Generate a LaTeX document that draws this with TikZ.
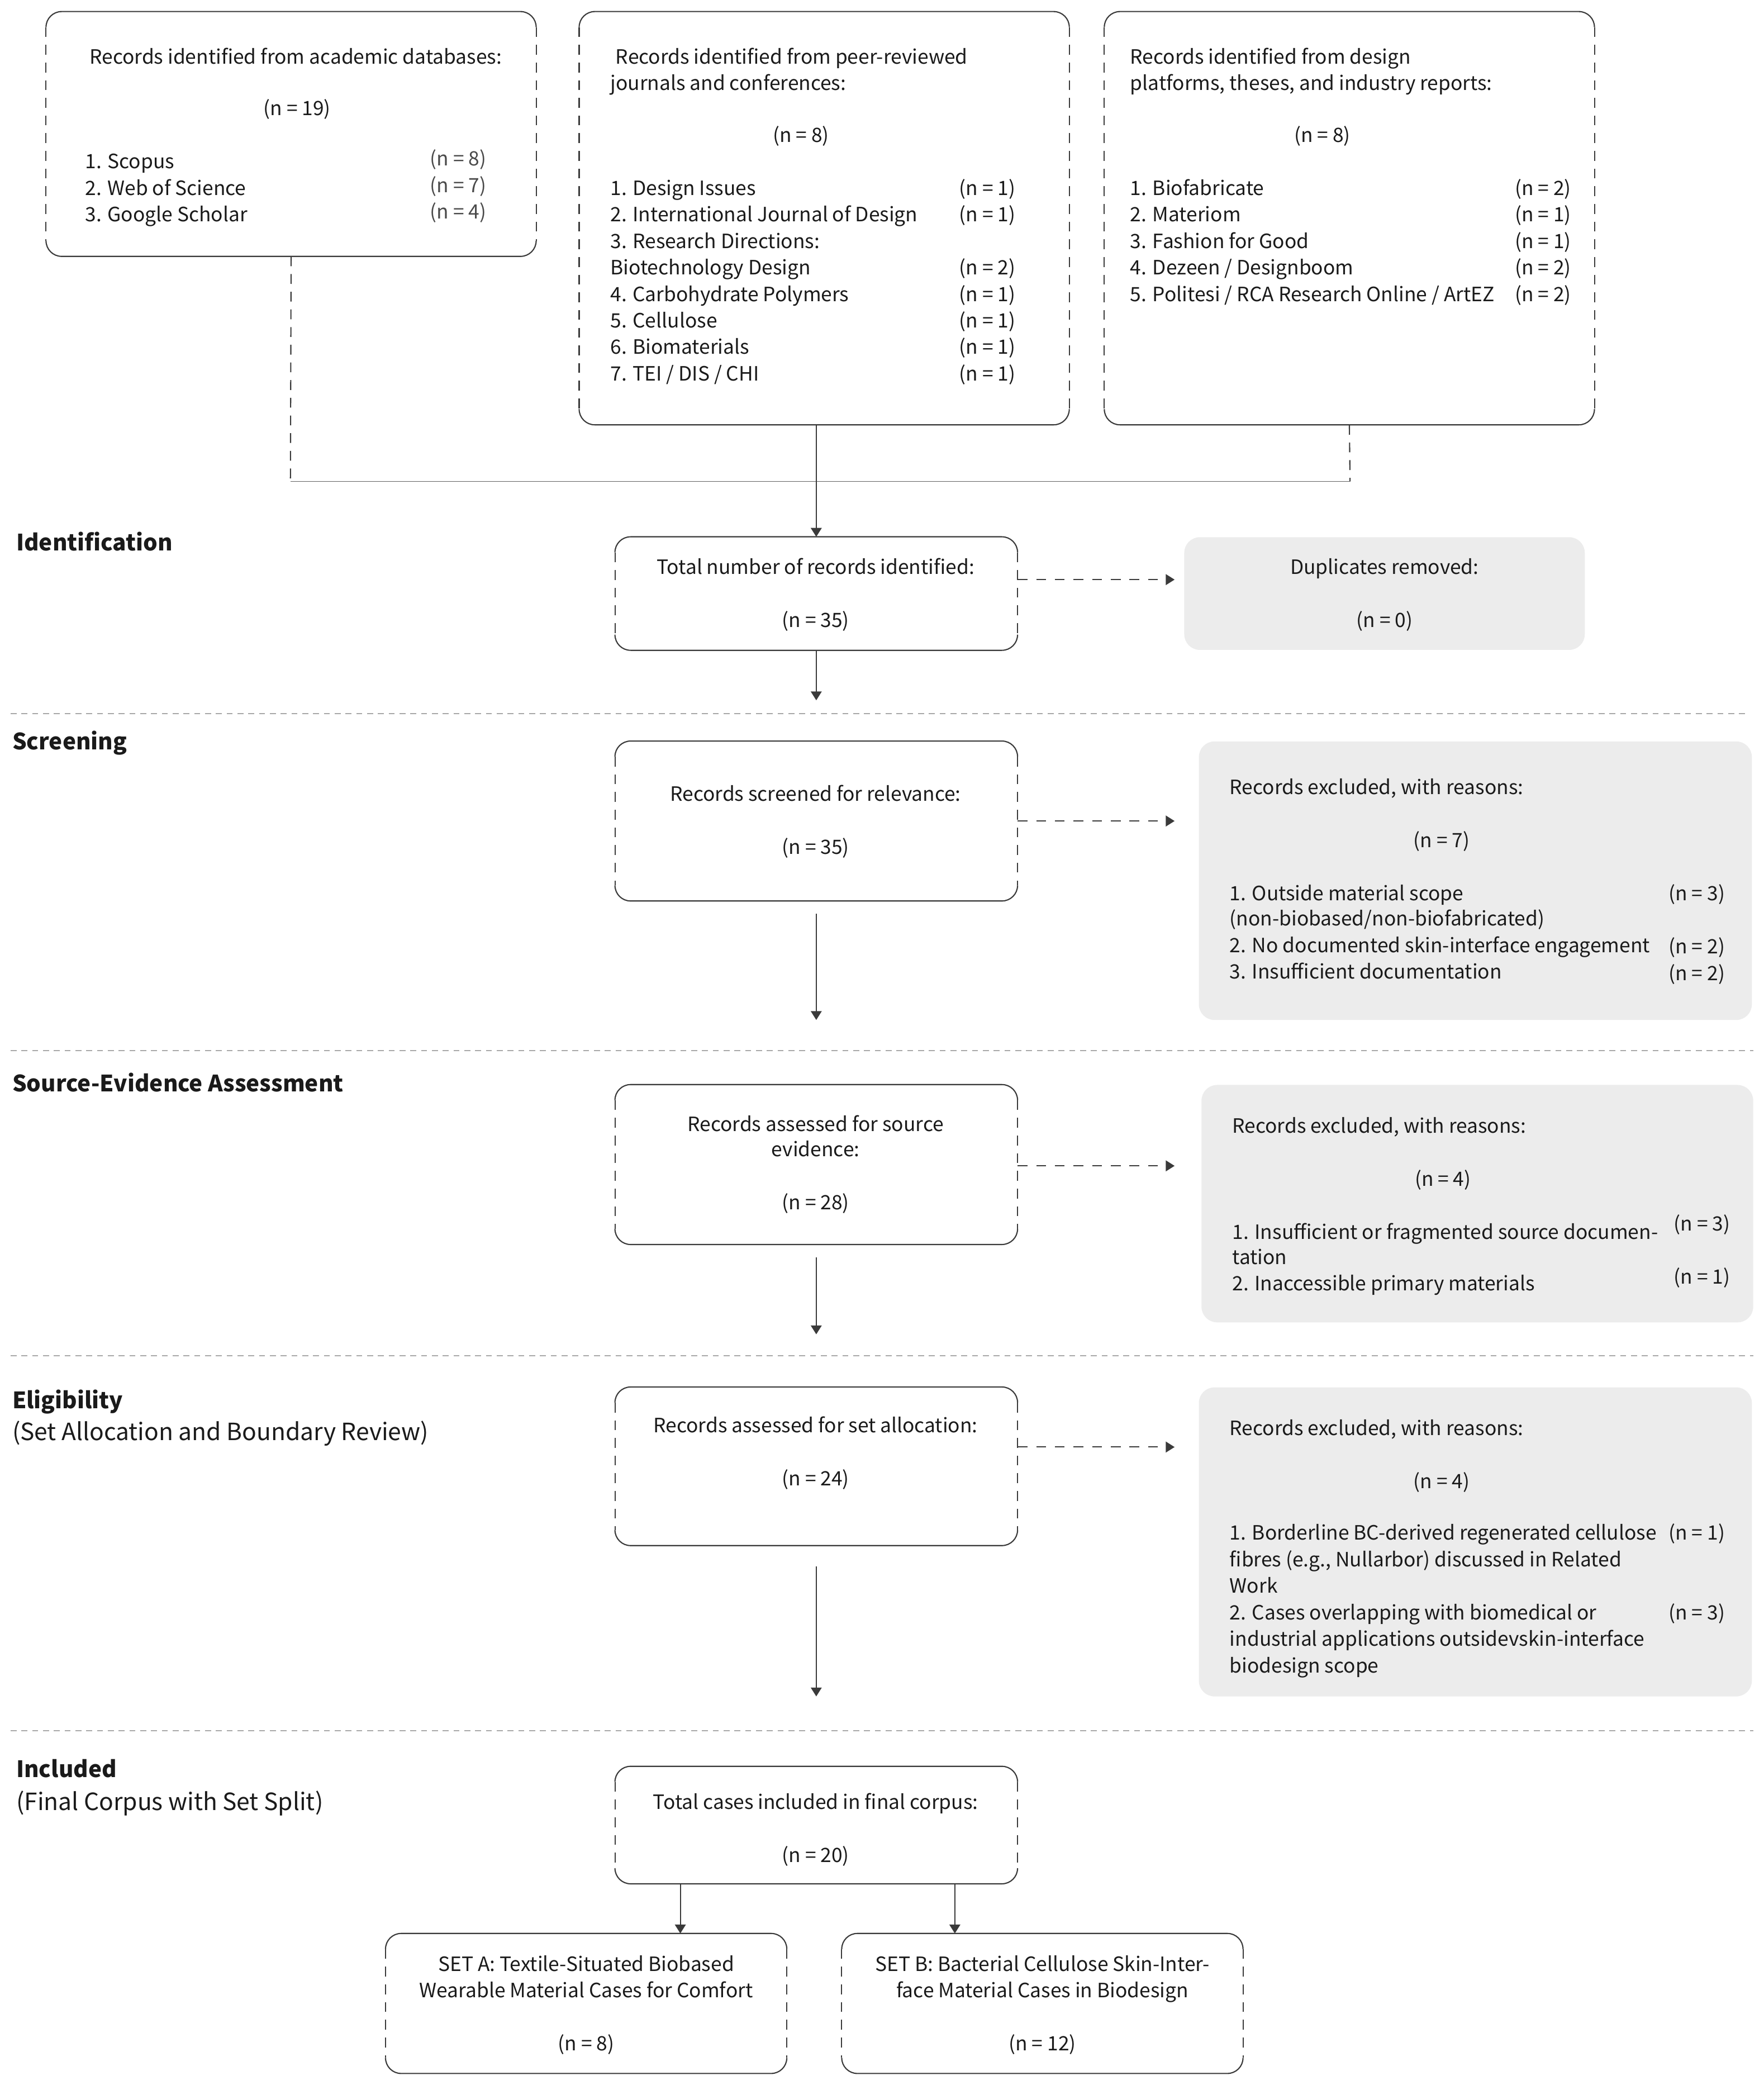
\documentclass[tikz,border=0pt]{standalone}
\usepackage{fontspec}
\setmainfont{Noto Sans CJK SC}
\usetikzlibrary{arrows.meta}
\def\uu{0.2373mm}
\def\rr{2.8mm}
\definecolor{ln}{HTML}{3A3A3A}
\definecolor{sepc}{HTML}{A8A8A8}
\definecolor{gbox}{HTML}{ECECEC}
\definecolor{tx}{HTML}{1A1A1A}
\definecolor{cntc}{HTML}{4A4A4A}
\newcommand\bodyf{\fontsize{10.05}{13.5}\selectfont}
\newcommand\headf{\fontsize{12.1}{15}\selectfont}
\newcommand\headbf{\fontsize{11.5}{15}\selectfont\bfseries}
\newcommand\framesides[1]{%
  \draw[boxline] ([yshift=-\rr]#1.north west) arc[start angle=180,end angle=90,radius=\rr] -- ([xshift=-\rr]#1.north east) arc[start angle=90,end angle=0,radius=\rr];
  \draw[boxline] ([yshift=\rr]#1.south west) arc[start angle=180,end angle=270,radius=\rr] -- ([xshift=-\rr]#1.south east) arc[start angle=270,end angle=360,radius=\rr];
  \draw[boxline,sidedash] ([yshift=-\rr]#1.north west) -- ([yshift=\rr]#1.south west);
  \draw[boxline,sidedash] ([yshift=-\rr]#1.north east) -- ([yshift=\rr]#1.south east);
}
\tikzset{
  bx/.style 2 args={inner sep=0pt, minimum width=#1*\uu, minimum height=#2*\uu},
  gb/.style 2 args={bx={#1}{#2}, fill=gbox, rounded corners=\rr},
  boxline/.style={draw=ln, line width=0.6pt},
  sidedash/.style={dash pattern=on 5pt off 4pt},
  txl/.style={anchor=base west, inner sep=0pt, font=\bodyf, text=tx, yshift=-1.45mm},
  txc/.style={anchor=base, inner sep=0pt, font=\bodyf, text=tx, yshift=-1.45mm},
  cnt/.style={txl, text=cntc},
  hd/.style={anchor=base west, inner sep=0pt, font=\headbf, text=tx, yshift=-1.9mm},
  hdr/.style={anchor=base west, inner sep=0pt, font=\headf, text=tx, yshift=-1.9mm},
  arr/.style={draw=ln, line width=0.6pt, -{Triangle[length=4.5pt,width=5.5pt]}},
  darr/.style={arr, dash pattern=on 5pt off 4.5pt},
  dline/.style={draw=ln, line width=0.6pt, dash pattern=on 5pt off 4pt},
  sline/.style={draw=ln!80, line width=0.5pt},
  sepline/.style={draw=sepc, line width=0.6pt, dash pattern=on 3pt off 2.5pt},
}
\begin{document}
\begin{tikzpicture}[x=0.2373mm, y=-0.2373mm]
\useasboundingbox (0,0) rectangle (1330,1572);
\fill[white] (0,0) rectangle (1330,1572);

% separators
\draw[sepline] (8,538) -- (1318,538);
\draw[sepline] (8,792) -- (1322,792);
\draw[sepline] (8,1022) -- (1322,1022);
\draw[sepline] (8,1305) -- (1322,1305);

% section labels
\node[hd] (hid) at (12,407) {Identification};
\node[hd] (hsc) at (9,557) {Screening};
\node[hd] (hse) at (9,815) {Source-Evidence Assessment};
\node[hd] (hel) at (9,1054) {Eligibility};
\node[hdr] (hel2) at (9,1078) {(Set Allocation and Boundary Review)};
\node[hd] (hin) at (12,1332) {Included};
\node[hdr] (hin2) at (12,1357) {(Final Corpus with Set Split)};

% boxes
\node[bx={369}{184}] (b1) at (219.5,101) {};
\node[bx={369}{311}] (b2) at (621.5,164.5) {};
\node[bx={369}{311}] (b3) at (1017.5,164.5) {};
\node[bx={303}{85}] (tot) at (615.5,447.5) {};
\node[gb={302}{85}] (dup) at (1044,447.5) {};
\node[bx={303}{120}] (scr) at (615.5,619) {};
\node[gb={417}{210}] (ex1) at (1112.5,664) {};
\node[bx={303}{120}] (se) at (615.5,878) {};
\node[gb={416}{179}] (ex2) at (1114,907.5) {};
\node[bx={303}{119}] (el) at (615.5,1105.5) {};
\node[gb={417}{233}] (ex3) at (1112.5,1162.5) {};
\node[bx={303}{88}] (fin) at (615.5,1376) {};
\node[bx={302}{105}] (sa) at (442,1510.5) {};
\node[bx={302}{105}] (sb) at (786,1510.5) {};
\foreach \b in {b1,b2,b3,tot,scr,se,el,fin,sa,sb} {\framesides{\b}}

% box 1 text
\node[txc] (b1t) at (223,42) {Records identified from academic databases:};
\node[txc] (b1n) at (224,81) {(n = 19)};
\node[txl] (b1i1) at (64,121) {1. Scopus};
\node[txl] (b1i2) at (64,141) {2. Web of Science};
\node[txl] (b1i3) at (64,161) {3. Google Scholar};
\node[cnt] (b1c1) at (324,119) {(n = 8)};
\node[cnt] (b1c2) at (324,139) {(n = 7)};
\node[cnt] (b1c3) at (324,159) {(n = 4)};

% box 2 text
\node[txl] (b2t1) at (464,42) {Records identified from peer-reviewed};
\node[txl] (b2t2) at (460,62) {journals and conferences:};
\node[txc] (b2n) at (604,101) {(n = 8)};
\node[txl] (b2i1) at (460,141) {1. Design Issues};
\node[txl] (b2i2) at (460,161) {2. International Journal of Design};
\node[txl] (b2i3) at (460,181) {3. Research Directions:};
\node[txl] (b2i4) at (460,201) {Biotechnology Design};
\node[txl] (b2i5) at (460,221) {4. Carbohydrate Polymers};
\node[txl] (b2i6) at (460,241) {5. Cellulose};
\node[txl] (b2i7) at (460,261) {6. Biomaterials};
\node[txl] (b2i8) at (460,281) {7. TEI / DIS / CHI};
\node[txl] (b2c1) at (723,141) {(n = 1)};
\node[txl] (b2c2) at (723,161) {(n = 1)};
\node[txl] (b2c4) at (723,201) {(n = 2)};
\node[txl] (b2c5) at (723,221) {(n = 1)};
\node[txl] (b2c6) at (723,241) {(n = 1)};
\node[txl] (b2c7) at (723,261) {(n = 1)};
\node[txl] (b2c8) at (723,281) {(n = 1)};

% box 3 text
\node[txl] (b3t1) at (852,42) {Records identified from design};
\node[txl] (b3t2) at (852,62) {platforms, theses, and industry reports:};
\node[txc] (b3n) at (997,101) {(n = 8)};
\node[txl] (b3i1) at (852,141) {1. Biofabricate};
\node[txl] (b3i2) at (852,161) {2. Materiom};
\node[txl] (b3i3) at (852,181) {3. Fashion for Good};
\node[txl] (b3i4) at (852,201) {4. Dezeen / Designboom};
\node[txl] (b3i5) at (852,221) {5. Politesi / RCA Research Online / ArtEZ};
\node[txl] (b3c1) at (1142,141) {(n = 2)};
\node[txl] (b3c2) at (1142,161) {(n = 1)};
\node[txl] (b3c3) at (1142,181) {(n = 1)};
\node[txl] (b3c4) at (1142,201) {(n = 2)};
\node[txl] (b3c5) at (1142,221) {(n = 2)};

% total / duplicates
\node[txc] (tott) at (615,427) {Total number of records identified:};
\node[txc] (totn) at (615,467) {(n = 35)};
\node[txc] (dupt) at (1044,427) {Duplicates removed:};
\node[txc] (dupn) at (1044,467) {(n = 0)};

% screening
\node[txc] (scrt) at (615,598) {Records screened for relevance:};
\node[txc] (scrn) at (615,638) {(n = 35)};
\node[txl] (ex1t) at (927,593) {Records excluded, with reasons:};
\node[txc] (ex1n) at (1087,633) {(n = 7)};
\node[txl] (ex1i1) at (927,673) {1. Outside material scope};
\node[txl] (ex1i2) at (927,692) {(non-biobased/non-biofabricated)};
\node[txl] (ex1i3) at (927,712) {2. No documented skin-interface engagement};
\node[txl] (ex1i4) at (927,732) {3. Insufficient documentation};
\node[txl] (ex1c1) at (1258,673) {(n = 3)};
\node[txl] (ex1c2) at (1258,713) {(n = 2)};
\node[txl] (ex1c3) at (1258,733) {(n = 2)};

% source evidence
\node[txc] (set1) at (615,847) {Records assessed for source};
\node[txc] (set2) at (615,866) {evidence:};
\node[txc] (sen) at (615,906) {(n = 28)};
\node[txl] (ex2t) at (929,848) {Records excluded, with reasons:};
\node[txc] (ex2n) at (1088,888) {(n = 4)};
\node[txl] (ex2i1) at (929,928) {1. Insufficient or fragmented source documen-};
\node[txl] (ex2i2) at (929,947) {tation};
\node[txl] (ex2i3) at (929,967) {2. Inaccessible primary materials};
\node[txl] (ex2c1) at (1262,922) {(n = 3)};
\node[txl] (ex2c2) at (1262,962) {(n = 1)};

% eligibility
\node[txc] (elt) at (615,1074) {Records assessed for set allocation:};
\node[txc] (eln) at (615,1114) {(n = 24)};
\node[txl] (ex3t) at (927,1076) {Records excluded, with reasons:};
\node[txc] (ex3n) at (1087,1116) {(n = 4)};
\node[txl] (ex3i1) at (927,1155) {1. Borderline BC-derived regenerated cellulose};
\node[txl] (ex3i2) at (927,1175) {fibres (e.g., Nullarbor) discussed in Related};
\node[txl] (ex3i3) at (927,1195) {Work};
\node[txl] (ex3i4) at (927,1215) {2. Cases overlapping with biomedical or};
\node[txl] (ex3i5) at (927,1235) {industrial applications outsidevskin-interface};
\node[txl] (ex3i6) at (927,1255) {biodesign scope};
\node[txl] (ex3c1) at (1258,1155) {(n = 1)};
\node[txl] (ex3c2) at (1258,1215) {(n = 3)};

% included
\node[txc] (fint) at (615,1358) {Total cases included in final corpus:};
\node[txc] (finn) at (615,1398) {(n = 20)};
\node[txc] (sat1) at (442,1480) {SET A: Textile-Situated Biobased};
\node[txc] (sat2) at (442,1500) {Wearable Material Cases for Comfort};
\node[txc] (san) at (442,1540) {(n = 8)};
\node[txc] (sbt1) at (786,1480) {SET B: Bacterial Cellulose Skin-Inter-};
\node[txc] (sbt2) at (786,1500) {face Material Cases in Biodesign};
\node[txc] (sbn) at (786,1540) {(n = 12)};

% connectors
\coordinate (j1) at (219,363);
\coordinate (j3) at (1018,363);
\draw[dline] (b1.south) -- (j1);
\draw[dline] (b3.south) -- (j3);
\draw[sline] (j1) -- (j3);
\draw[arr] (b2.south -| tot.north) -- (tot.north);

\coordinate (ya) at (0,437);
\coordinate (yb) at (0,619);
\coordinate (yc) at (0,879);
\coordinate (yd) at (0,1091);
\draw[darr, shorten >=7*\uu] (tot.east |- ya) -- (dup.west |- ya);
\draw[darr, shorten >=18*\uu] (scr.east |- yb) -- (ex1.west |- yb);
\draw[darr, shorten >=20*\uu] (se.east |- yc) -- (ex2.west |- yc);
\draw[darr, shorten >=18*\uu] (el.east |- yd) -- (ex3.west |- yd);

\coordinate (a1) at (615.5,528);
\coordinate (a2s) at (615.5,689);
\coordinate (a2e) at (615.5,769);
\coordinate (a3s) at (615.5,948);
\coordinate (a3e) at (615.5,1006);
\coordinate (a4s) at (615.5,1181);
\coordinate (a4e) at (615.5,1279);
\draw[arr] (tot.south) -- (a1);
\draw[arr] (a2s) -- (a2e);
\draw[arr] (a3s) -- (a3e);
\draw[arr] (a4s) -- (a4e);
\coordinate (xa) at (513,0);
\coordinate (xb) at (720,0);
\draw[arr] (fin.south -| xa) -- (sa.north -| xa);
\draw[arr] (fin.south -| xb) -- (sb.north -| xb);
\end{tikzpicture}
\end{document}
